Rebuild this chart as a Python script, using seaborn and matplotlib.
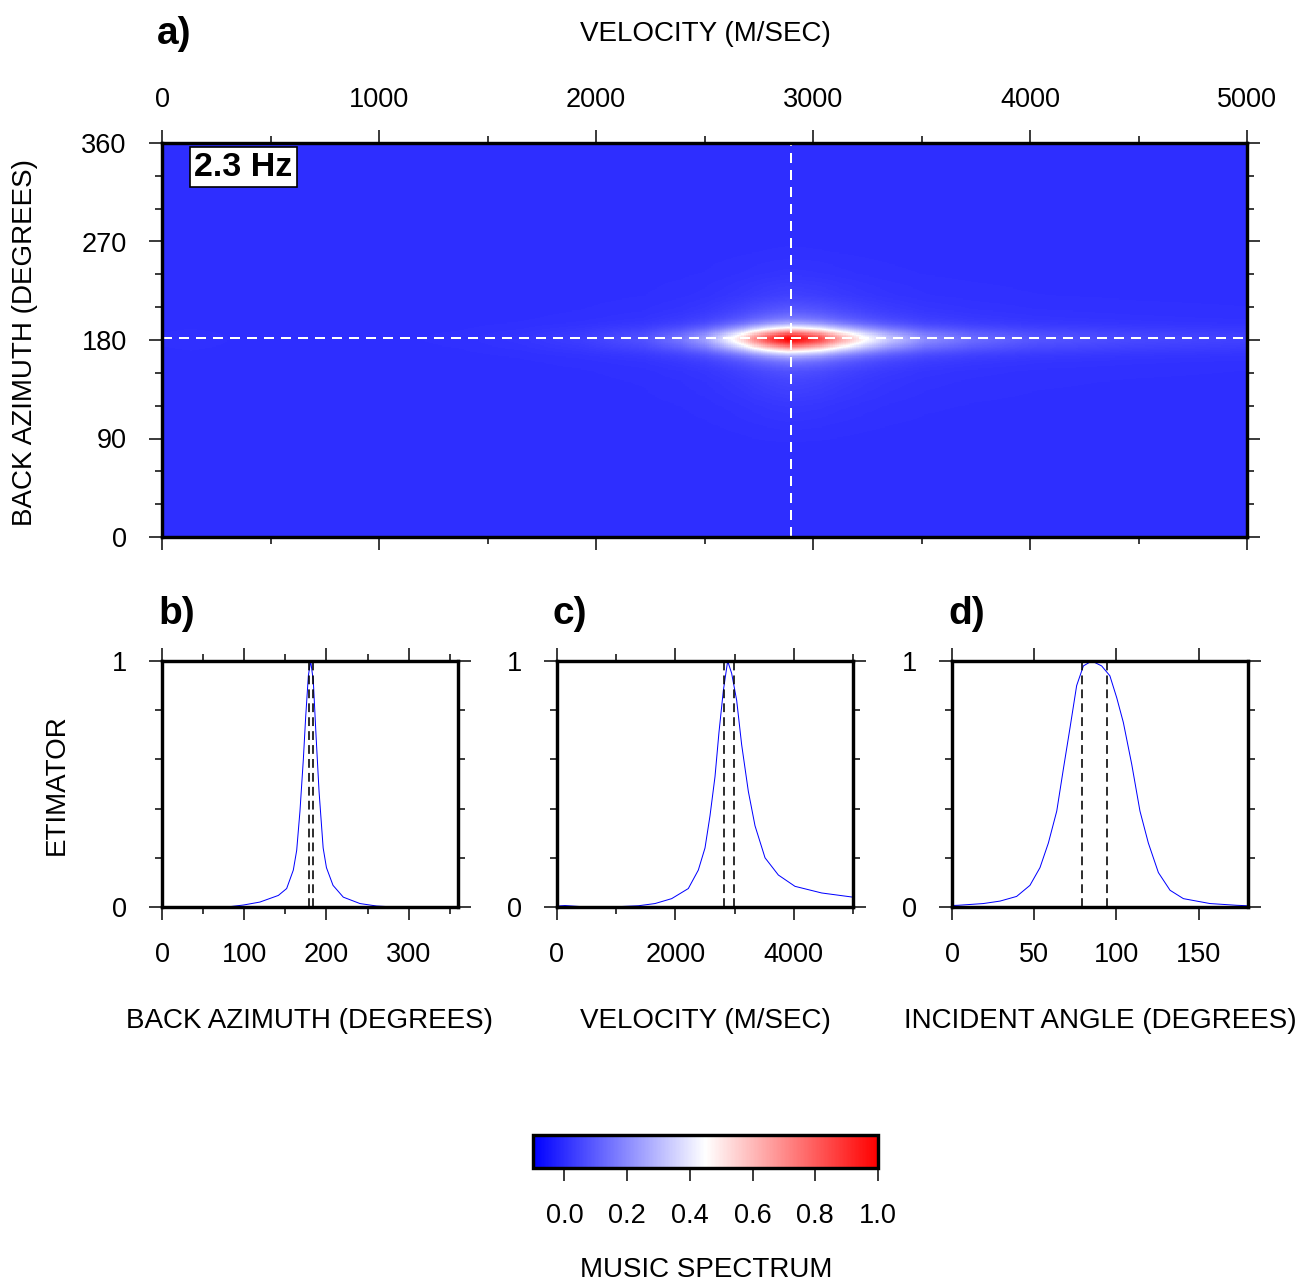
import numpy as np
import pandas as pd
import seaborn as sns
import matplotlib.pyplot as plt
from matplotlib.colors import LinearSegmentedColormap
from matplotlib.ticker import MultipleLocator, FixedLocator

# ---------------------------------------------------------
# DATA
# ---------------------------------------------------------
# b) estimator vs back azimuth
baz_deg = [0, 79, 99, 119, 141.5, 151.6, 159.7, 163.8, 167.8, 171.9, 174.7, 178, 180.8,
           184, 187.3, 191, 196, 200, 208, 220.5, 240.8, 261, 283, 360]
baz_est = [0, 0, 0.008, 0.02, 0.047, 0.075, 0.15, 0.23, 0.39, 0.60, 0.77, 0.94, 1.0,
           0.92, 0.70, 0.47, 0.24, 0.16, 0.088, 0.04, 0.014, 0.004, 0, 0]
baz_bounds = [179, 184]

# c) estimator vs velocity
vel_ms = [0, 135, 500, 1000, 1374, 1655, 1937, 2218, 2387, 2500, 2584, 2669, 2736, 2810,
          2883, 2950, 3035, 3119, 3232, 3345, 3514, 3739, 4020, 4471, 5000]
vel_est = [0.004, 0.006, 0.0, 0.001, 0.005, 0.014, 0.034, 0.075, 0.15, 0.24, 0.37, 0.53,
           0.71, 0.88, 1.0, 0.95, 0.84, 0.66, 0.47, 0.33, 0.20, 0.13, 0.084, 0.057, 0.040]
vel_bounds = [2826, 2990]

# d) estimator vs incident angle
inc_deg = [0, 3.8, 19, 29.2, 39.3, 47.4, 53.5, 58.6, 63.7, 67.7, 71.8, 75.8, 79.9, 85, 91,
           96, 100.2, 104.2, 109.3, 114.3, 119.4, 125.5, 132.6, 140.7, 156.9, 173, 180]
inc_est = [0.006, 0.007, 0.014, 0.024, 0.043, 0.088, 0.16, 0.26, 0.39, 0.56, 0.73, 0.90,
           0.98, 1.0, 0.98, 0.94, 0.85, 0.75, 0.58, 0.39, 0.26, 0.14, 0.068, 0.034, 0.014,
           0.007, 0.005]
inc_bounds = [79, 94]

# a) best-fit picks marked by the dashed cross
best_vel = 2900
best_baz = 182
freq_label = "2.3 Hz"

# ---------------------------------------------------------
# MUSIC spectrum grid: product of the two marginal profiles
# ---------------------------------------------------------
dv, db = 10, 1
vel_c = np.arange(dv / 2, 5000, dv)
baz_c = np.arange(db / 2, 360, db)
spec = np.outer(np.interp(baz_c, baz_deg, baz_est), np.interp(vel_c, vel_ms, vel_est))
spec_df = pd.DataFrame(spec, index=baz_c, columns=vel_c)

# ---------------------------------------------------------
# STYLE
# ---------------------------------------------------------
sns.set_theme(style="ticks")
plt.rcParams['font.family'] = ['Liberation Sans', 'DejaVu Sans']
plt.rcParams.update({'text.color': 'black', 'axes.labelcolor': 'black',
                     'xtick.color': 'black', 'ytick.color': 'black'})

W, H = 1314, 1284
PX = 72 / 100  # points per pixel at dpi 100
FRAME = 3.4 * PX
MAJ, MIN = 13 * PX, 7 * PX
TICK_W = 1.5 * PX
FS = 19.5

polar = LinearSegmentedColormap.from_list("polar", ["#0000ff", "#ffffff", "#ff0000"])


def box(x0, y0, x1, y1):
    return [x0 / W, 1 - y1 / H, (x1 - x0) / W, (y1 - y0) / H]


def ftext(x, y, s, **kw):
    kw.setdefault('fontsize', 20)
    kw.setdefault('color', 'black')
    fig.text(x / W, 1 - (y + 2) / H, s, **kw)


def frame(ax):
    for sp in ax.spines.values():
        sp.set_visible(True)
        sp.set_linewidth(FRAME)
        sp.set_color('black')
    ax.tick_params(which='both', direction='out', top=True, bottom=True, left=True, right=True,
                   width=TICK_W, color='black', labelcolor='black', labelsize=FS, pad=16)
    ax.tick_params(which='major', length=MAJ)
    ax.tick_params(which='minor', length=MIN)
    ax.set_xlabel('')
    ax.set_ylabel('')
    ax.grid(False)


fig = plt.figure(figsize=(W / 100, H / 100), dpi=100)

# ---------------------------------------------------------
# a) MUSIC spectrum
# ---------------------------------------------------------
ax_a = fig.add_axes(box(162, 143, 1247, 537))
cax = fig.add_axes(box(533, 1135, 878, 1168))
sns.heatmap(spec_df, ax=ax_a, cmap=polar, vmin=-0.1, vmax=1.0, cbar_ax=cax,
            cbar_kws={'orientation': 'horizontal'}, xticklabels=False, yticklabels=False,
            rasterized=True)
ax_a.set_ylim(0, len(baz_c))
ax_a.set_xlim(0, len(vel_c))
frame(ax_a)
vt = np.arange(0, 5001, 1000)
ax_a.xaxis.set_major_locator(FixedLocator(vt / dv))
ax_a.set_xticklabels([str(v) for v in vt])
ax_a.xaxis.set_minor_locator(MultipleLocator(500 / dv))
bt = np.arange(0, 361, 90)
ax_a.yaxis.set_major_locator(FixedLocator(bt / db))
ax_a.set_yticklabels([str(b) for b in bt], rotation=0)
ax_a.yaxis.set_minor_locator(MultipleLocator(30 / db))
ax_a.tick_params(labeltop=True, labelbottom=False, labelleft=True, labelright=False)
ax_a.tick_params(axis='x', which='major', pad=12.5)
ax_a.axvline(best_vel / dv, color='white', lw=2 * PX, dashes=(5, 3.5))
ax_a.axhline(best_baz / db, color='white', lw=2 * PX, dashes=(5, 3.5))

ftext(243.5, 165, freq_label, ha='center', va='center', fontsize=24.5, fontweight='bold',
      bbox=dict(boxstyle='square,pad=0.12', fc='white', ec='black', lw=1.2))

cbar = ax_a.collections[0].colorbar
cbar.outline.set_linewidth(FRAME)
cbar.outline.set_edgecolor('black')
cbar.set_ticks([0.0, 0.2, 0.4, 0.6, 0.8, 1.0])
cbar.set_ticklabels(['0.0', '0.2', '0.4', '0.6', '0.8', '1.0'])
cbar.ax.tick_params(direction='out', length=MAJ, width=TICK_W, pad=16, labelsize=FS,
                    color='black', labelcolor='black', bottom=True, top=False)

ftext(705, 32, "VELOCITY (M/SEC)", ha='center', va='center')
ftext(25, 340, "BACK AZIMUTH (DEGREES)", ha='center', va='center', rotation=90)
ftext(706, 1268, "MUSIC SPECTRUM", ha='center', va='center')

# ---------------------------------------------------------
# b), c), d) estimator profiles
# ---------------------------------------------------------
panels = [
    (162, baz_deg, baz_est, baz_bounds, 360, 100, 50, "b)", "BACK AZIMUTH (DEGREES)"),
    (557, vel_ms, vel_est, vel_bounds, 5000, 2000, 1000, "c)", "VELOCITY (M/SEC)"),
    (952, inc_deg, inc_est, inc_bounds, 180, 50, None, "d)", "INCIDENT ANGLE (DEGREES)"),
]
for x0, xs, ys, bounds, xmax, major, minor, tag, xlabel in panels:
    ax = fig.add_axes(box(x0, 661, x0 + 296, 907))
    sns.lineplot(x=xs, y=ys, ax=ax, color='blue', lw=1.0 * PX, sort=False)
    for b in bounds:
        ax.axvline(b, color='black', lw=1.6 * PX, dashes=(5.5, 3.2))
    ax.set_xlim(0, xmax)
    ax.set_ylim(0, 1)
    frame(ax)
    ax.xaxis.set_major_locator(MultipleLocator(major))
    if minor:
        ax.xaxis.set_minor_locator(MultipleLocator(minor))
    ax.set_yticks([0, 1])
    ax.set_yticklabels(['0', '1'])
    ax.yaxis.set_minor_locator(MultipleLocator(0.2))
    ax.tick_params(labeltop=False, labelbottom=True, labelleft=True, labelright=False)
    ftext(x0 - 4, 612, tag, ha='left', va='center', fontsize=28, fontweight='bold')
    ftext(x0 + 148, 1019, xlabel, ha='center', va='center')

ftext(57, 783, "ETIMATOR", ha='center', va='center', rotation=90)
ftext(157, 32, "a)", ha='left', va='center', fontsize=28, fontweight='bold')

fig.savefig("out.png", dpi=100)
